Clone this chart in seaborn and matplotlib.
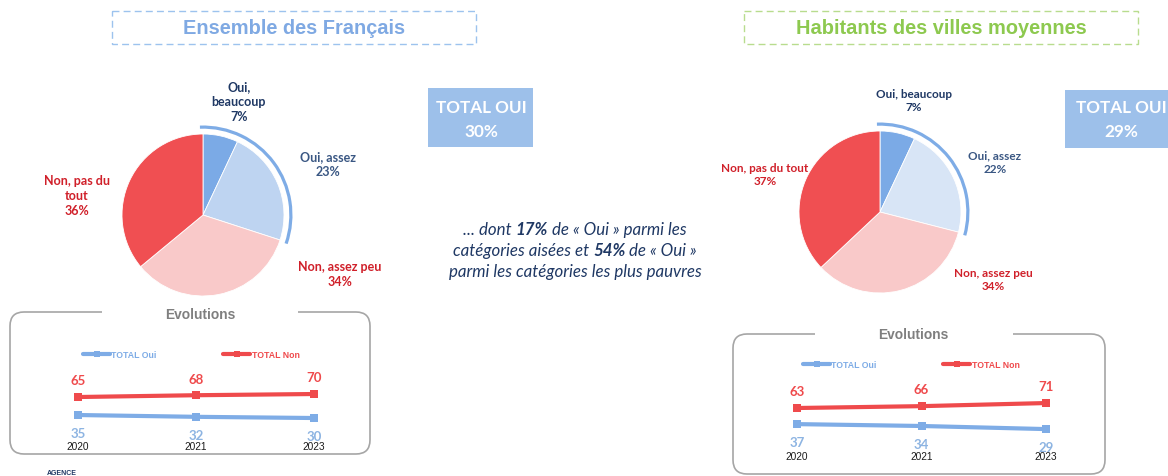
import numpy as np
import pandas as pd
import matplotlib
matplotlib.use("Agg")
import matplotlib.pyplot as plt
from matplotlib.patches import Arc, FancyBboxPatch, Rectangle
from matplotlib.lines import Line2D
import seaborn as sns

# Données
categories = ["Oui, beaucoup", "Oui, assez", "Non, assez peu", "Non, pas du tout"]
france_pct = [7, 23, 34, 36]
villes_pct = [7, 22, 34, 37]
total_oui = [30, 29]
years = ["2020", "2021", "2023"]
series = ["TOTAL Oui", "TOTAL Non"]
france_oui = [35, 32, 30]
france_non = [65, 68, 70]
villes_oui = [37, 34, 29]
villes_non = [63, 66, 71]
aises_oui = 17
pauvres_oui = 54

W, H = 1168, 477
BLUE = "#7EACE6"
RED = "#EF4A4C"
LBL_BLUE = "#8DB4E2"
NAVY = "#1F3864"
STEEL = "#3A5783"
DARKRED = "#D0202A"
CAL = ["Lato", "DejaVu Sans"]

sns.set_theme(style="white")
plt.rcParams["font.family"] = ["Liberation Sans", "DejaVu Sans"]

fig = plt.figure(figsize=(W / 100, H / 100), dpi=100)
bg = fig.add_axes([0, 0, 1, 1])
bg.set_xlim(0, W)
bg.set_ylim(H, 0)
bg.axis("off")


def px_axes(x0, y0, x1, y1):
    ax = fig.add_axes([x0 / W, 1 - y1 / H, (x1 - x0) / W, (y1 - y0) / H])
    ax.patch.set_alpha(0)
    return ax


def draw_pie(cx, cy, r, values, colors):
    lim = 1.3
    half = r * lim
    ax = px_axes(cx - half, cy - half, cx + half, cy + half)
    ax.pie(values, colors=colors, startangle=90, counterclock=False, radius=1,
           wedgeprops=dict(linewidth=0.6, edgecolor="white"))
    ax.set_xlim(-lim, lim)
    ax.set_ylim(-lim, lim)
    ax.set_aspect("equal")
    ax.axis("off")
    # arc bleu autour des "Oui"
    oui = sum(values[:2])
    end = 90 - 360 * oui / 100 - 1
    ax.add_patch(Arc((0, 0), 2.17, 2.17, theta1=end, theta2=92, color=BLUE, lw=2.3))
    return ax


def draw_evolution(xr, yr, ylim, oui, non, fs_lab, pad):
    ax = px_axes(xr[0], yr[0], xr[1], yr[1])
    x = list(range(len(years)))
    df = pd.DataFrame({"x": x * 2, "valeur": oui + non,
                       "serie": [series[0]] * len(oui) + [series[1]] * len(non)})
    sns.lineplot(data=df, x="x", y="valeur", hue="serie", style="serie",
                 markers=["s", "s"], dashes=False, palette=[BLUE, RED],
                 lw=3, markersize=6, markeredgewidth=0, legend=False, ax=ax)
    for i, v in enumerate(non):
        ax.annotate(f"{v}", (i, v), xytext=(0, 12), textcoords="offset points",
                    ha="center", va="center", color=RED, fontsize=fs_lab,
                    fontweight="bold", family=CAL)
    for i, v in enumerate(oui):
        ax.annotate(f"{v}", (i, v), xytext=(0, -13), textcoords="offset points",
                    ha="center", va="center", color=LBL_BLUE, fontsize=fs_lab,
                    fontweight="bold", family=CAL)
    ax.set_xlim(-0.5, len(years) - 0.5)
    ax.set_ylim(*ylim)
    ax.set_xticks(x)
    ax.set_xticklabels(years)
    ax.set_yticks([])
    ax.set_xlabel("")
    ax.set_ylabel("")
    ax.tick_params(axis="x", length=0, pad=pad, labelsize=7.3, labelcolor="#1a1a1a")
    sns.despine(ax=ax, left=True, bottom=True)
    return ax


def draw_legend(x, y):
    handles = [Line2D([], [], color=c, lw=3, marker="s", ms=5, mew=0) for c in (BLUE, RED)]
    leg = fig.legend(handles, series, loc="center left", bbox_to_anchor=(x / W, 1 - y / H),
                     ncol=2, frameon=False,
                     prop=dict(family="Liberation Sans", size=6.3, weight="bold"),
                     handlelength=3.1, handletextpad=0.15, columnspacing=7.6,
                     borderpad=0, borderaxespad=0)
    for t, c in zip(leg.get_texts(), (BLUE, RED)):
        t.set_color(c)


def evol_box(x0, y0, x1, y1, gap, tx, ty):
    bg.add_patch(FancyBboxPatch((x0, y0), x1 - x0, y1 - y0,
                                boxstyle="round,pad=0,rounding_size=14",
                                fc="none", ec="#A6A6A6", lw=1.2))
    bg.add_patch(Rectangle((gap[0], y0 - 5), gap[1] - gap[0], 10, fc="white", ec="none"))
    bg.text(tx, ty, "Evolutions", ha="center", va="center", fontsize=9.9,
            fontweight="bold", color="#7F7F7F")


def title_box(x0, y0, x1, y1, text, ec, tc):
    bg.add_patch(Rectangle((x0, y0), x1 - x0, y1 - y0, fc="none", ec=ec, lw=1,
                           ls=(0, (5, 3))))
    bg.text((x0 + x1) / 2, (y0 + y1) / 2, text, ha="center", va="center",
            fontsize=14.4, fontweight="bold", color=tc)


def total_box(x0, y0, x1, y1, tx, v):
    bg.add_patch(Rectangle((x0, y0), x1 - x0, y1 - y0, fc="#9DC0EA", ec="none"))
    bg.text(tx, 108, "TOTAL OUI", ha="center", va="center", fontsize=12.3,
            fontweight="bold", color="white", family=CAL)
    bg.text(tx, 132, f"{v}%", ha="center", va="center", fontsize=12.3,
            fontweight="bold", color="white", family=CAL)


# ---------- Ensemble des Français ----------
title_box(112, 12, 476, 45, "Ensemble des Français", "#9DC3EE", "#7FA9E3")
draw_pie(203, 216, 81, france_pct, ["#7BAAE6", "#BED4F1", "#F9C9C9", "#F04F52"])
left_labels = ["Oui,\nbeaucoup", "Oui, assez", "Non, assez peu", "Non, pas du\ntout"]
left_pos = [(239, 102), (328, 165), (340, 275), (77, 196)]
left_col = [NAVY, STEEL, DARKRED, DARKRED]
for lab, v, (x, y), c in zip(left_labels, france_pct, left_pos, left_col):
    bg.text(x, y, f"{lab}\n{v}%", ha="center", va="center", fontsize=9,
            fontweight="bold", color=c, family=CAL, linespacing=1.3)
total_box(428, 89, 533, 148, 481, total_oui[0])
evol_box(10, 313, 370, 455, (102, 298), 200, 315)
draw_evolution((19, 373), (370, 430), (11.7, 111.7), france_oui, france_non, 9.5, 9)
draw_legend(83, 356)

# ---------- Texte central ----------
note_lines = [
    [("... dont ", "normal"), (f"{aises_oui}%", "bold"), (" de « Oui » parmi les", "normal")],
    [("catégories aisées et ", "normal"), (f"{pauvres_oui}%", "bold"), (" de « Oui »", "normal")],
    [("parmi les catégories les plus pauvres", "normal")],
]
renderer = fig.canvas.get_renderer()
for line, y in zip(note_lines, (230, 251, 272)):
    texts = [bg.text(0, y, s, ha="left", va="center", fontsize=12.2, style="italic",
                     fontweight=w, color=NAVY, family=CAL) for s, w in line]
    widths = [t.get_window_extent(renderer).width for t in texts]
    x = 575 - sum(widths) / 2
    for t, w in zip(texts, widths):
        t.set_x(x)
        x += w

# ---------- Habitants des villes moyennes ----------
title_box(744, 12, 1138, 45, "Habitants des villes moyennes", "#B8DC8E", "#8DC94F")
draw_pie(880, 213, 81, villes_pct, ["#7BAAE6", "#D8E5F6", "#F9C9C9", "#F04F52"])
right_pos = [(914, 101), (995, 163), (993, 280), (765, 175)]
for lab, v, (x, y), c in zip(categories, villes_pct, right_pos, left_col):
    bg.text(x, y, f"{lab}\n{v}%", ha="center", va="center", fontsize=8.5,
            fontweight="bold", color=c, family=CAL, linespacing=1.3)
total_box(1065, 91, 1175, 149, 1121, total_oui[1])
evol_box(733, 335, 1105, 475, (815, 1013), 913, 335)
draw_evolution((735, 1108), (380, 440), (13, 109.8), villes_oui, villes_non, 9.5, 8.6)
draw_legend(803, 366)

bg.text(62, 474, "AGENCE", ha="center", va="center", fontsize=5, fontweight="bold",
        color=NAVY)

fig.savefig("out.png", dpi=100)
